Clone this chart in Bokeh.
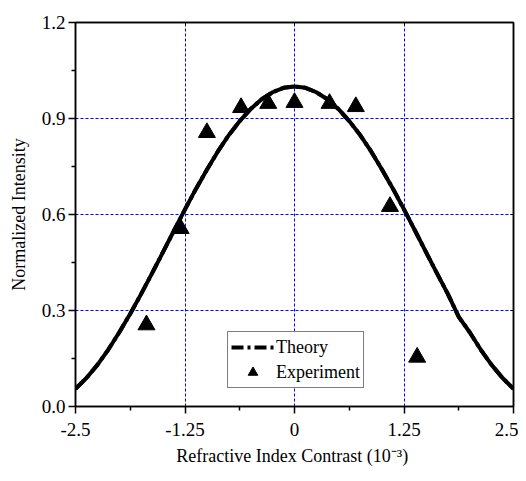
from bokeh.plotting import figure
from bokeh.models import (Range1d, FixedTicker, LinearAxis, Legend, LegendItem,
                          ColumnDataSource)
from bokeh.embed import file_html
from bokeh.resources import INLINE

# Theory curve
theory_x = [-2.5, -2.375, -2.25, -2.125, -2.0, -1.875, -1.75, -1.625, -1.5, -1.375,
            -1.25, -1.125, -1.0, -0.875, -0.75, -0.625, -0.5, -0.375, -0.25, -0.125,
            0.0, 0.125, 0.25, 0.375, 0.5, 0.625, 0.75, 0.875, 1.0, 1.125, 1.25,
            1.375, 1.5, 1.625, 1.75, 1.875, 2.0, 2.125, 2.25, 2.375, 2.5]
theory_y = [0.055, 0.089, 0.130, 0.178, 0.232, 0.290, 0.352, 0.417, 0.483, 0.550,
            0.616, 0.680, 0.740, 0.797, 0.848, 0.892, 0.930, 0.960, 0.982, 0.996,
            1.0, 0.996, 0.982, 0.960, 0.930, 0.892, 0.848, 0.797, 0.740, 0.680, 0.616,
            0.550, 0.483, 0.417, 0.352, 0.280, 0.232, 0.178, 0.130, 0.089, 0.055]

# Experiment points
exp_x = [-1.69, -1.30, -1.00, -0.61, -0.30, 0.0, 0.40, 0.70, 1.09, 1.40]
exp_y = [0.255, 0.556, 0.856, 0.934, 0.947, 0.95, 0.947, 0.937, 0.625, 0.154]

x_ticks = [-2.5, -1.25, 0, 1.25, 2.5]
x_minor = [-1.875, -0.625, 0.625, 1.875]
x_labels = ["-2.5", "-1.25", "0", "1.25", "2.5"]
y_ticks = [0.0, 0.3, 0.6, 0.9, 1.2]
y_minor = [0.15, 0.45, 0.75, 1.05]
y_labels = ["0.0", "0.3", "0.6", "0.9", "1.2"]

FONT = "'Liberation Serif', serif"

p = figure(width=518, height=473, output_backend="svg", toolbar_location=None,
           x_range=Range1d(-2.5, 2.5), y_range=Range1d(0, 1.2),
           min_border_left=75, min_border_right=5, min_border_top=22, min_border_bottom=67)
p.outline_line_color = "black"
p.outline_line_width = 1.5

for ax, ticks, minor, labels in ((p.xaxis[0], x_ticks, x_minor, x_labels),
                                 (p.yaxis[0], y_ticks, y_minor, y_labels)):
    ax.ticker = FixedTicker(ticks=ticks, minor_ticks=minor)
    ax.major_label_overrides = {t: l for t, l in zip(ticks, labels)}
    ax.major_label_text_font = FONT
    ax.major_label_text_font_size = "19px"
    ax.major_label_text_color = "black"
    ax.axis_line_width = 1.5
    ax.axis_line_color = "black"
    ax.major_tick_line_color = "black"
    ax.minor_tick_line_color = "black"
    ax.major_tick_line_width = 1.5
    ax.minor_tick_line_width = 1.5
    ax.major_tick_in = 0
    ax.major_tick_out = 7
    ax.minor_tick_in = 0
    ax.minor_tick_out = 4
    ax.axis_label_text_font = FONT
    ax.axis_label_text_font_style = "normal"
    ax.axis_label_text_font_size = "18px"
    ax.axis_label_text_color = "black"

p.xaxis[0].axis_label = "Refractive Index Contrast  (10⁻³)"
p.xaxis[0].major_label_standoff = 9
p.xaxis[0].axis_label_standoff = 7
p.yaxis[0].axis_label = "Normalized Intensity"
p.yaxis[0].major_label_standoff = 3
p.yaxis[0].axis_label_standoff = 10

# top and right axes (ticks only)
top = LinearAxis(ticker=FixedTicker(ticks=x_ticks, minor_ticks=x_minor),
                 major_label_text_color=None, major_tick_in=3, major_tick_out=0,
                 minor_tick_in=0, minor_tick_out=0, axis_line_width=1.5)
right = LinearAxis(ticker=FixedTicker(ticks=y_ticks, minor_ticks=y_minor),
                   major_label_text_color=None, major_tick_in=3, major_tick_out=0,
                   minor_tick_in=0, minor_tick_out=0, axis_line_width=1.5)
p.add_layout(top, "above")
p.add_layout(right, "right")

p.xgrid.ticker = FixedTicker(ticks=[-1.25, 0, 1.25])
p.ygrid.ticker = FixedTicker(ticks=[0.3, 0.6, 0.9])
for g in (p.xgrid[0], p.ygrid[0]):
    g.grid_line_color = "#0000ff"
    g.grid_line_dash = "3 2"
    g.grid_line_width = 1

src_t = ColumnDataSource(dict(x=theory_x, y=theory_y))
src_e = ColumnDataSource(dict(x=exp_x, y=exp_y))

p.line("x", "y", source=src_t, line_color="black", line_width=4, line_join="round")
# dash-dot line drawn exactly over the solid curve: used for the legend sample
dashed = p.line("x", "y", source=src_t, line_color="black", line_width=4,
                line_dash="12 4 3 4", line_join="round")
tri = p.scatter("x", "y", source=src_e, marker="triangle", size=17,
                fill_color="black", line_color="black")

legend = Legend(items=[LegendItem(label="Theory", renderers=[dashed]),
                       LegendItem(label="Experiment", renderers=[tri])],
                location=(152, 18), label_text_font=FONT, label_text_font_size="18px",
                label_text_color="black", glyph_width=43, glyph_height=24,
                label_standoff=2, label_height=22, spacing=1, padding=3, margin=0,
                border_line_color="black", border_line_width=1,
                background_fill_alpha=1.0)
p.add_layout(legend, "center")

open("out.html", "w").write(file_html(p, INLINE))
